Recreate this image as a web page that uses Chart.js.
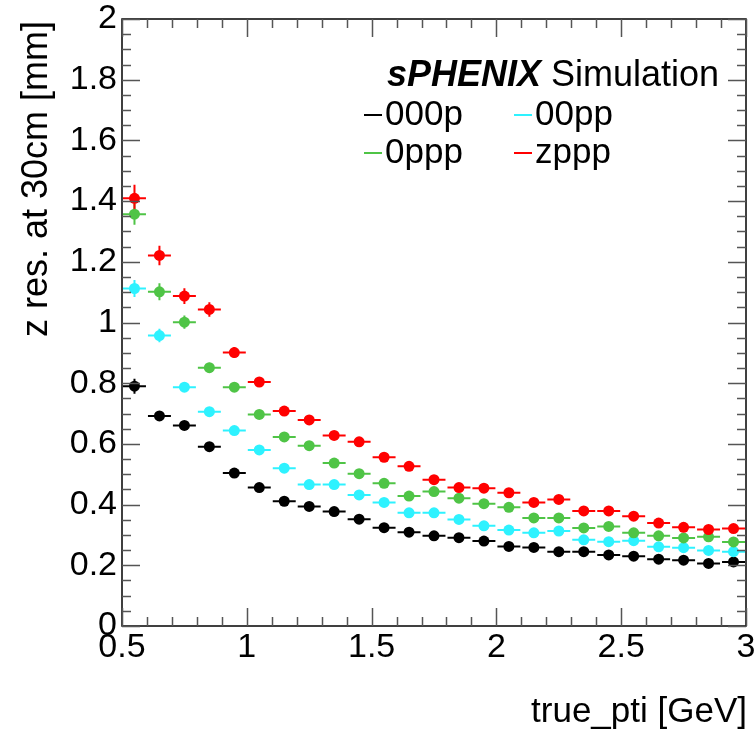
<!DOCTYPE html>
<html>
<head>
<meta charset="utf-8">
<script src="https://cdn.jsdelivr.net/npm/chart.js@4.4.1/dist/chart.umd.min.js"></script>
<style>
  html, body { margin: 0; padding: 0; background: #fff; }
  canvas { display: block; }
</style>
</head>
<body>
<canvas id="resChart" width="756" height="732"></canvas>
<script>
// bin centres of true_pti [GeV], bins are 0.1 wide
const binCenters = [0.55, 0.65, 0.75, 0.85, 0.95, 1.05, 1.15, 1.25, 1.35, 1.45, 1.55, 1.65, 1.75,
                    1.85, 1.95, 2.05, 2.15, 2.25, 2.35, 2.45, 2.55, 2.65, 2.75, 2.85, 2.95];
const binHalfWidth = 0.05;

const seriesNames = ['000p', '00pp', '0ppp', 'zppp'];

// z resolution at 30cm [mm]
const res000p = [0.790, 0.692, 0.661, 0.591, 0.504, 0.456, 0.411, 0.394, 0.377, 0.352, 0.324, 0.309, 0.297,
                 0.291, 0.280, 0.262, 0.259, 0.245, 0.245, 0.234, 0.230, 0.220, 0.217, 0.206, 0.211];
const res00pp = [1.112, 0.957, 0.787, 0.706, 0.644, 0.580, 0.520, 0.466, 0.466, 0.432, 0.407, 0.373, 0.373,
                 0.351, 0.330, 0.316, 0.307, 0.313, 0.284, 0.278, 0.281, 0.261, 0.258, 0.249, 0.245];
const res0ppp = [1.357, 1.101, 1.001, 0.851, 0.787, 0.697, 0.623, 0.594, 0.537, 0.502, 0.470, 0.428, 0.443,
                 0.421, 0.403, 0.391, 0.356, 0.356, 0.323, 0.328, 0.307, 0.297, 0.290, 0.294, 0.277];
const reszppp = [1.409, 1.221, 1.087, 1.043, 0.901, 0.804, 0.708, 0.679, 0.628, 0.607, 0.556, 0.526, 0.482,
                 0.456, 0.454, 0.439, 0.407, 0.417, 0.379, 0.379, 0.362, 0.339, 0.325, 0.318, 0.321];

// vertical error bars
const err000p = [0.025, 0.015, 0.012, 0.010, 0.008, 0.008, 0.007, 0.007, 0.006, 0.006, 0.006, 0.006, 0.005,
                 0.005, 0.005, 0.005, 0.005, 0.005, 0.005, 0.005, 0.005, 0.005, 0.005, 0.005, 0.005];
const err00pp = [0.028, 0.022, 0.016, 0.012, 0.010, 0.009, 0.008, 0.007, 0.007, 0.006, 0.006, 0.006, 0.006,
                 0.005, 0.005, 0.005, 0.005, 0.005, 0.005, 0.005, 0.005, 0.005, 0.005, 0.005, 0.005];
const err0ppp = [0.035, 0.028, 0.022, 0.016, 0.013, 0.011, 0.009, 0.008, 0.007, 0.007, 0.006, 0.006, 0.006,
                 0.006, 0.005, 0.005, 0.005, 0.005, 0.005, 0.005, 0.005, 0.005, 0.005, 0.005, 0.005];
const errzppp = [0.045, 0.032, 0.026, 0.024, 0.018, 0.015, 0.011, 0.009, 0.008, 0.008, 0.007, 0.007, 0.006,
                 0.006, 0.006, 0.006, 0.005, 0.005, 0.005, 0.005, 0.005, 0.005, 0.005, 0.005, 0.005];

const seriesValues = [res000p, res00pp, res0ppp, reszppp];
const seriesErrors = [err000p, err00pp, err0ppp, errzppp];
const seriesColors = ['#000000', '#2ef2ff', '#4fc446', '#ff0000'];

const xTitle = 'true_pti [GeV]';
const yTitle = 'z res. at 30cm [mm]';

const FONT = '"Liberation Sans", Arial, Helvetica, sans-serif';
const fmt = v => String(+v.toFixed(2));

// ROOT-like frame, inward ticks, error bars, titles and legend
const rootStyle = {
    id: 'rootStyle',
    beforeDatasetsDraw(chart) {
        const ctx = chart.ctx;
        const xs = chart.scales.x, ys = chart.scales.y;
        ctx.save();
        ctx.lineWidth = 2;
        seriesValues.forEach((vals, s) => {
            ctx.strokeStyle = seriesColors[s];
            vals.forEach((v, i) => {
                const x0 = xs.getPixelForValue(binCenters[i] - binHalfWidth) + 1;
                const x1 = xs.getPixelForValue(binCenters[i] + binHalfWidth) - 1;
                const xc = xs.getPixelForValue(binCenters[i]);
                const y = ys.getPixelForValue(v);
                const ylo = ys.getPixelForValue(v - seriesErrors[s][i]);
                const yhi = ys.getPixelForValue(v + seriesErrors[s][i]);
                ctx.beginPath();
                ctx.moveTo(x0, y); ctx.lineTo(x1, y);
                ctx.moveTo(xc, ylo); ctx.lineTo(xc, yhi);
                ctx.stroke();
            });
        });
        ctx.restore();
    },
    afterDraw(chart) {
        const ctx = chart.ctx;
        const a = chart.chartArea;
        const xs = chart.scales.x, ys = chart.scales.y;
        ctx.save();
        ctx.strokeStyle = '#000';
        ctx.lineWidth = 1.5;
        ctx.strokeRect(a.left, a.top, a.right - a.left, a.bottom - a.top);

        ctx.strokeStyle = '#555';
        ctx.lineWidth = 1.5;
        ctx.beginPath();
        // x ticks every 0.1, major every 0.5
        for (let k = 0; k <= 25; k++) {
            const v = 0.5 + k * 0.1;
            const px = Math.round(xs.getPixelForValue(v)) + 0.5;
            const len = (k % 5 === 0) ? 18 : 9;
            ctx.moveTo(px, a.bottom); ctx.lineTo(px, a.bottom - len);
            ctx.moveTo(px, a.top); ctx.lineTo(px, a.top + len);
        }
        // y ticks every 0.05, major every 0.2
        for (let k = 0; k <= 40; k++) {
            const v = k * 0.05;
            const py = Math.round(ys.getPixelForValue(v)) + 0.5;
            const len = (k % 4 === 0) ? 18 : 9;
            ctx.moveTo(a.left, py); ctx.lineTo(a.left + len, py);
            ctx.moveTo(a.right, py); ctx.lineTo(a.right - len, py);
        }
        ctx.stroke();

        // axis titles
        ctx.fillStyle = '#000';
        ctx.textAlign = 'right';
        ctx.textBaseline = 'alphabetic';
        ctx.font = '35px ' + FONT;
        ctx.fillText(xTitle, a.right + 1, 722);
        ctx.save();
        ctx.font = '36px ' + FONT;
        ctx.translate(47, a.top + 2);
        ctx.rotate(-Math.PI / 2);
        ctx.fillText(yTitle, 0, 0);
        ctx.restore();

        // header
        ctx.textAlign = 'left';
        ctx.textBaseline = 'middle';
        ctx.font = 'italic bold 36px ' + FONT;
        ctx.fillText('sPHENIX', 387, 76);
        const w = ctx.measureText('sPHENIX ').width;
        ctx.font = '36px ' + FONT;
        ctx.fillText('Simulation', 387 + w, 76);

        // legend
        ctx.font = '35px ' + FONT;
        const pos = [[364, 115], [514, 115], [364, 153], [514, 153]];
        seriesNames.forEach((name, s) => {
            const [lx, ly] = pos[s];
            ctx.strokeStyle = seriesColors[s];
            ctx.lineWidth = 2;
            ctx.beginPath();
            ctx.moveTo(lx, ly); ctx.lineTo(lx + 18, ly);
            ctx.stroke();
            ctx.fillStyle = '#000';
            ctx.fillText(name, lx + 21, ly);
        });
        ctx.restore();
    }
};

const datasets = seriesNames.map((name, s) => ({
    label: name,
    data: binCenters.map((x, i) => ({ x: x, y: seriesValues[s][i] })),
    backgroundColor: seriesColors[s],
    borderColor: seriesColors[s],
    pointRadius: 5.5,
    pointBorderWidth: 0,
    showLine: false,
    order: seriesNames.length - s
}));

new Chart(document.getElementById('resChart'), {
    type: 'scatter',
    data: { datasets: datasets },
    plugins: [rootStyle],
    options: {
        responsive: false,
        animation: false,
        devicePixelRatio: 1,
        layout: { padding: { left: 0, top: 19, right: 10, bottom: 0 } },
        plugins: { legend: { display: false }, tooltip: { enabled: false } },
        scales: {
            x: {
                type: 'linear',
                min: 0.5,
                max: 3,
                grid: { display: false, drawTicks: false },
                border: { display: false },
                ticks: {
                    stepSize: 0.5,
                    autoSkip: false,
                    maxRotation: 0,
                    padding: 1,
                    color: '#000',
                    font: { family: FONT, size: 34 },
                    callback: v => fmt(v)
                },
                afterFit: s => { s.height = 106; s.paddingLeft = 0; s.paddingRight = 0; }
            },
            y: {
                min: 0,
                max: 2,
                grid: { display: false, drawTicks: false },
                border: { display: false },
                ticks: {
                    stepSize: 0.2,
                    autoSkip: false,
                    padding: 5,
                    color: '#000',
                    font: { family: FONT, size: 34 },
                    callback: v => fmt(v)
                },
                afterFit: s => { s.width = 122; s.paddingTop = 0; s.paddingBottom = 0; }
            }
        }
    }
});
</script>
</body>
</html>
